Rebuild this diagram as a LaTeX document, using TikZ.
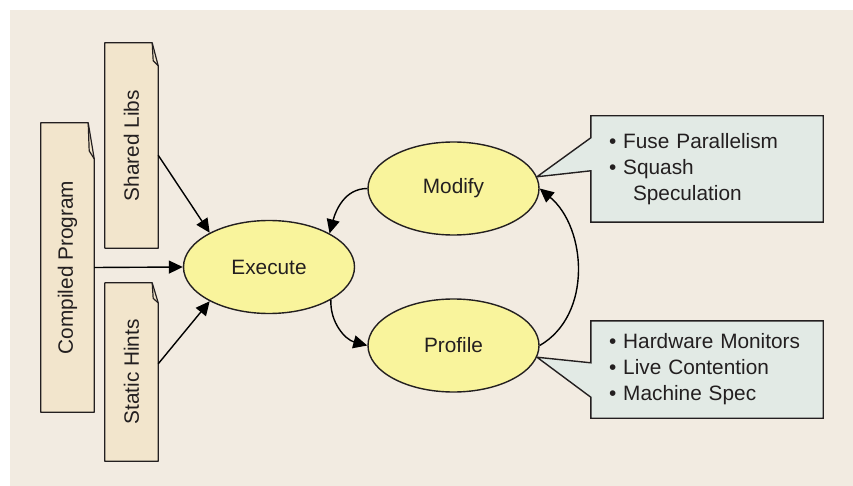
\documentclass[tikz,border=0pt]{standalone}
\usepackage{fontspec}
\setmainfont{Liberation Sans}
\usepackage{graphicx}
\usetikzlibrary{arrows.meta,shapes.geometric,backgrounds}
\definecolor{bgcol}{RGB}{242,235,225}
\definecolor{doccol}{RGB}{242,229,204}
\definecolor{statecol}{RGB}{249,244,156}
\definecolor{callcol}{RGB}{226,234,229}
\definecolor{inkcol}{RGB}{35,31,32}
\tikzset{
	docbox/.style={fill=doccol,minimum width=53pt,inner sep=0pt},
	docline/.style={draw=inkcol,line width=1.2pt,line join=round},
	state/.style={ellipse,draw=inkcol,line width=1.4pt,fill=statecol,minimum width=171pt,minimum height=93pt,inner sep=0pt},
	callbox/.style={text width=196pt,inner xsep=18pt,inner ysep=0pt,align=left},
	callline/.style={draw=inkcol,line width=1.4pt,fill=callcol,line join=miter},
	arr/.style={draw=black,line width=1.4pt,-{Triangle[length=14pt,width=13pt]}}
}
% folded corner of a document
\newcommand\docfold[2]{
	\fill[bgcol] ([xshift=-6pt]#1.north east) -- (#1.north east) -- ([yshift=-#2pt]#1.north east) -- cycle;
	\draw[docline] (#1.south west) -- (#1.north west) -- ([xshift=-6pt]#1.north east) -- ([yshift=-#2pt]#1.north east) -- (#1.south east) -- cycle;
	\draw[docline] ([xshift=-6pt]#1.north east) -- ([xshift=-5pt,yshift=-0.78*#2pt]#1.north east) -- ([yshift=-#2pt]#1.north east);
}
\begin{document}
\begin{tikzpicture}[x=1pt,y=-1pt,font=\fontsize{20.8}{26}\selectfont,text=inkcol]
	\useasboundingbox (0,0) rectangle (853,486);

	\node[docbox,minimum height=205pt] (shared) at (131.5,145.5) {\rotatebox{90}{Shared Libs}};
	\node[docbox,minimum height=289pt] (compiled) at (67.5,267.5) {\rotatebox{90}{Compiled Program}};
	\node[docbox,minimum height=178pt] (static) at (131.5,372) {\rotatebox{90}{Static Hints}};
	\docfold{shared}{23}
	\docfold{compiled}{36}
	\docfold{static}{20}

	\node[state] (exec) at (269,267) {Execute};
	\node[state] (modify) at (453.5,188.5) {Modify};
	\node[state] (profile) at (453.5,345.5) {Profile};

	\node[callbox,minimum height=106pt] (fusebox) at (707,169) {\textbullet\ Fuse Parallelism\\\textbullet\ Squash\\\hspace*{24pt}Speculation};
	\node[callbox,minimum height=97pt] (hwbox) at (707,369.5) {\textbullet\ Hardware Monitors\\\textbullet\ Live Contention\\\textbullet\ Machine Spec};
	\begin{scope}[on background layer]
		\fill[bgcol] (10,10) rectangle (853,486);
		\path[callline] (fusebox.north west) -- (fusebox.north east) -- (fusebox.south east) -- (fusebox.south west)
			-- ([yshift=-55pt]fusebox.north west) -- (modify.8) -- ([yshift=-22pt]fusebox.north west) -- cycle;
		\path[callline] (hwbox.north west) -- (hwbox.north east) -- (hwbox.south east) -- (hwbox.south west)
			-- ([yshift=21pt]hwbox.south west) -- (profile.-8.5) -- ([yshift=-42pt]hwbox.north west) -- cycle;
	\end{scope}

	\draw[arr] (shared.-20) -- (exec.150);
	\draw[arr] (compiled.east) -- (exec.west);
	\draw[arr] (static.17) -- (exec.210);
	\draw[arr] (modify.west) to[out=180,in=75] (exec.29);
	\draw[arr] (exec.-28) to[out=-92,in=165] (profile.west);
	\draw[arr] (profile.east) to[out=30,in=-40] (modify.east);
\end{tikzpicture}
\end{document}
